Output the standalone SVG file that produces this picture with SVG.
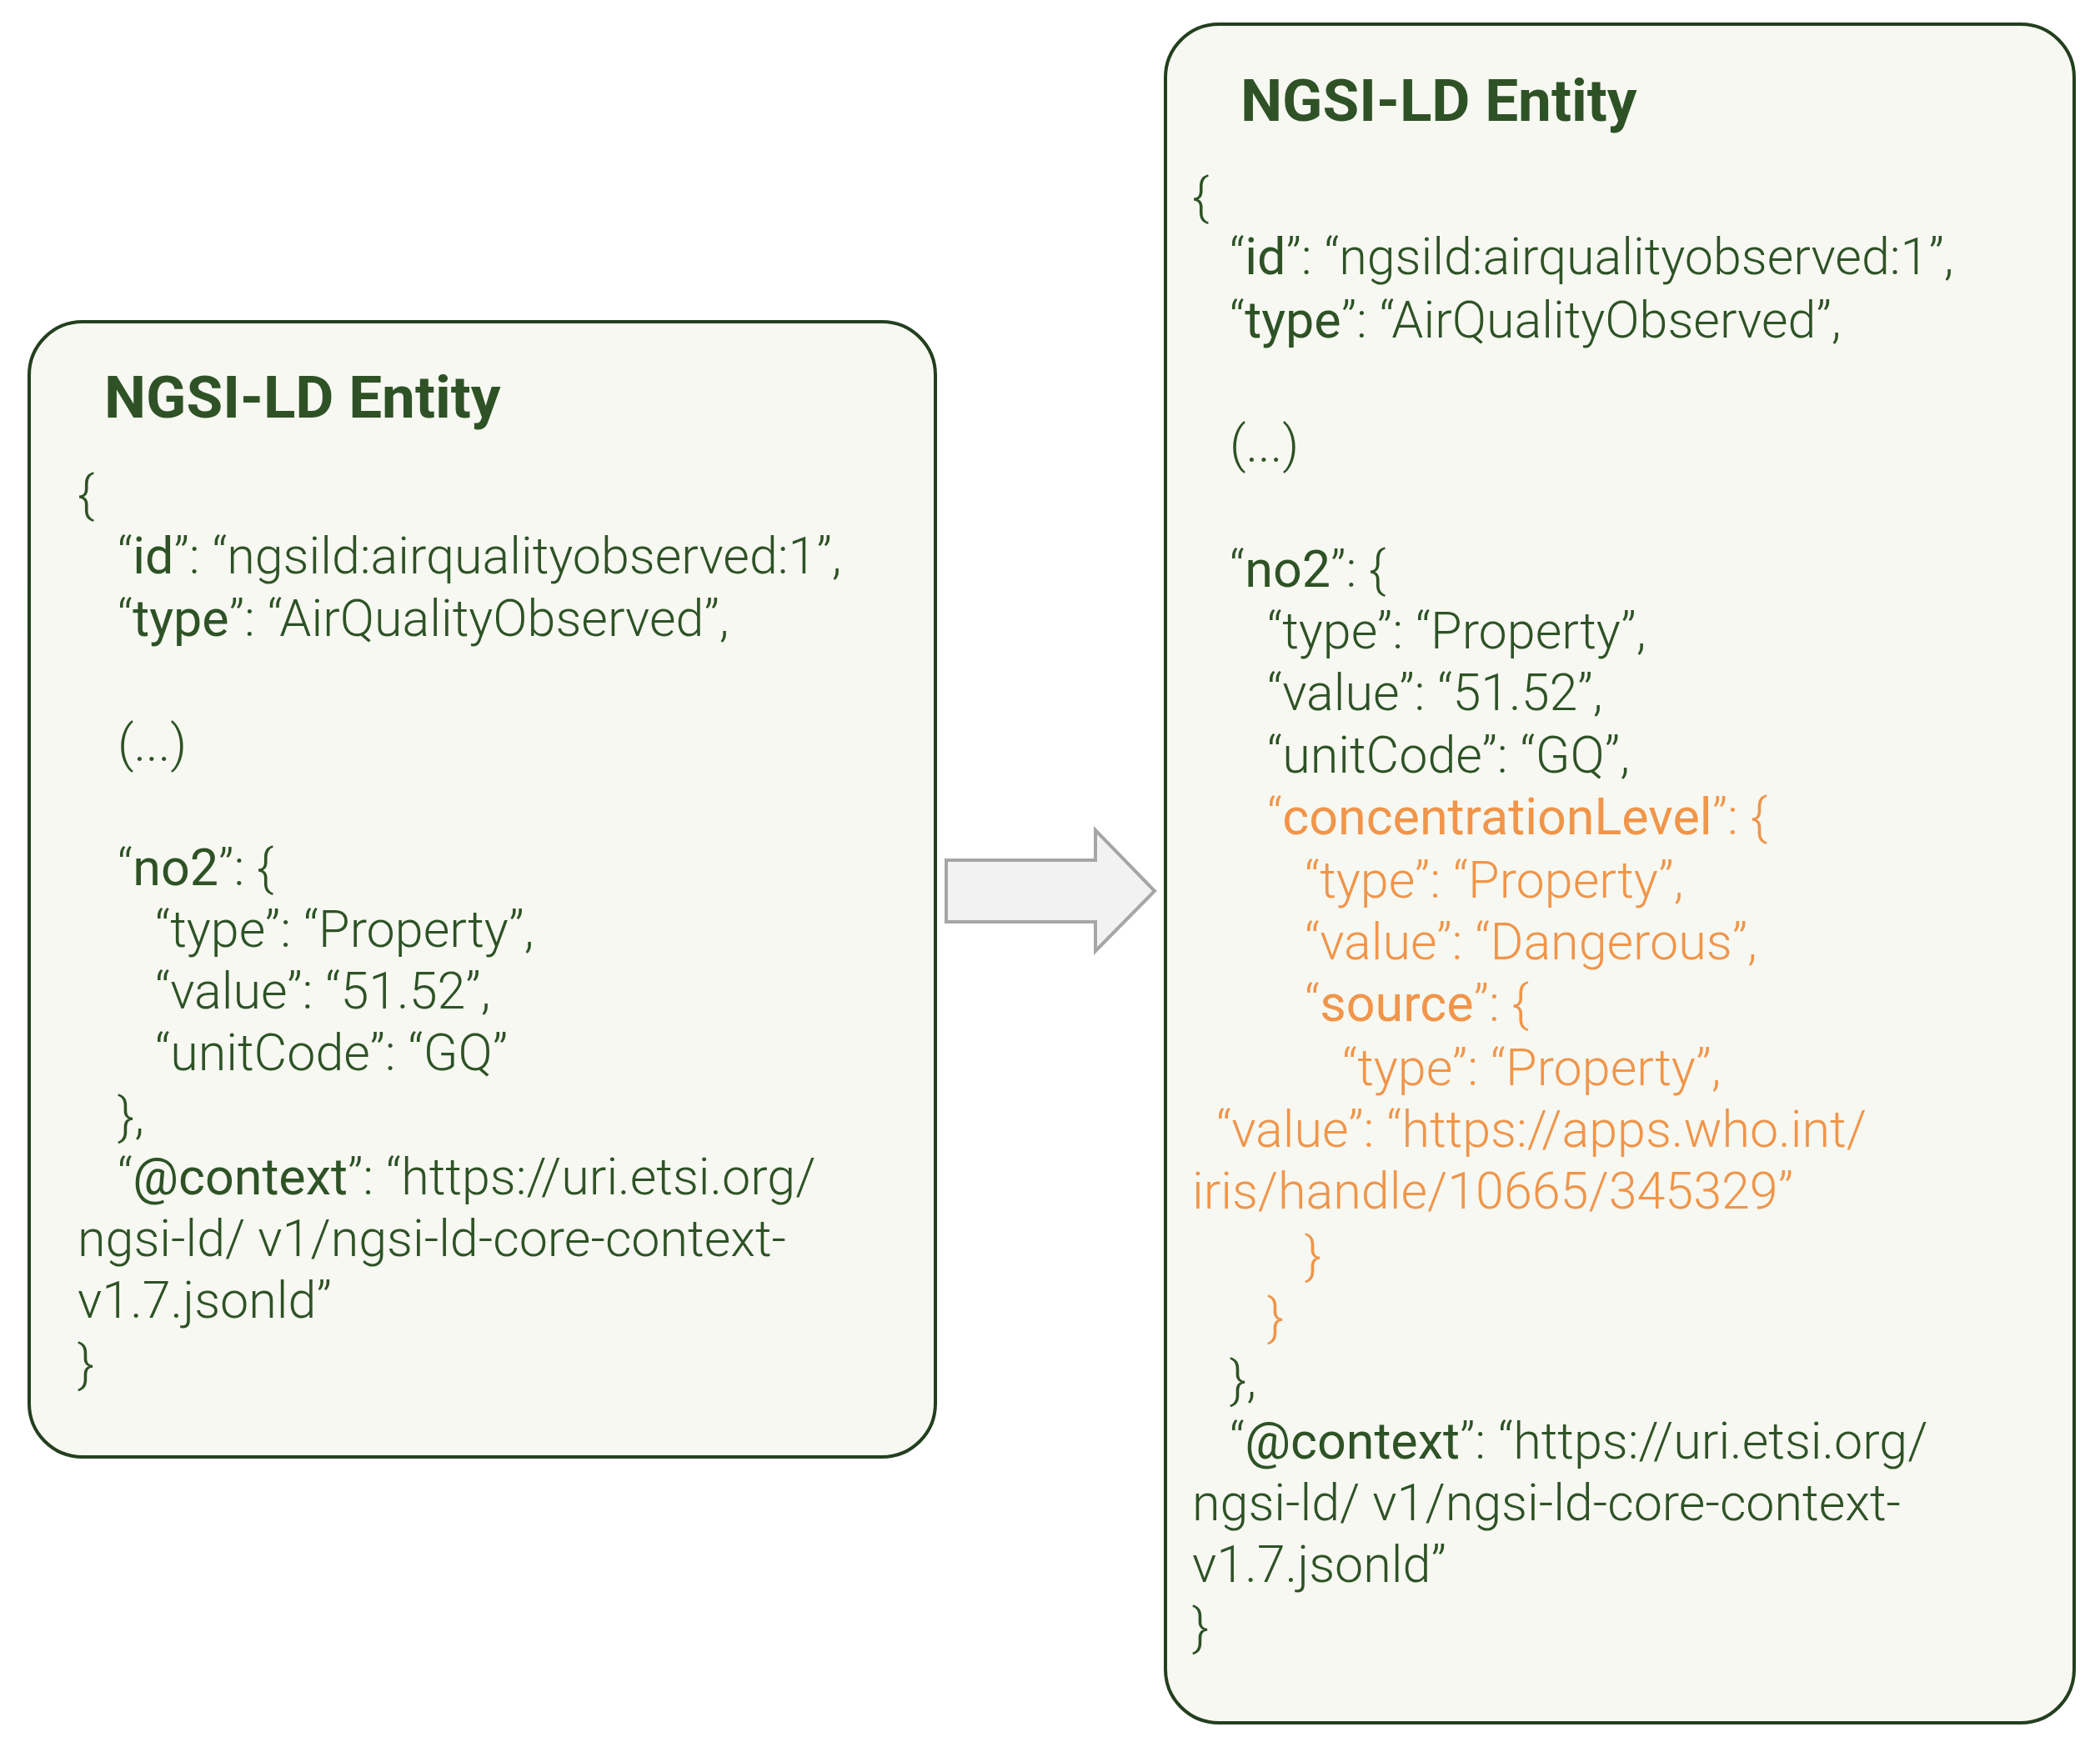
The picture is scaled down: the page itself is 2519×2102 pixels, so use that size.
<svg xmlns="http://www.w3.org/2000/svg" width="2519" height="2102" viewBox="0 0 2519 2102">
<style>
.box{fill:#f6f8f1;stroke:#233f1f;stroke-width:4}
.t{font-family:Roboto,"Liberation Sans",sans-serif;font-size:61px;font-weight:300;fill:#2e5226}
.h{font-family:Roboto,"Liberation Sans",sans-serif;font-size:71px;font-weight:700;fill:#2e5226}
.k{font-weight:400}
.o{fill:#f0954a}
</style>
<rect width="2519" height="2102" fill="#fff"/>
<g id="left">
<rect class="box" x="35" y="386" width="1087" height="1362" rx="64"/>
<text class="h" x="125" y="501">NGSI-LD Entity</text>
<text class="t" x="93" y="614">{</text>
<text class="t" x="141" y="688">“<tspan class="k">id</tspan>”: “ngsild:airqualityobserved:1”,</text>
<text class="t" x="141" y="763">“<tspan class="k">type</tspan>”: “AirQualityObserved”,</text>
<text class="t" x="141" y="913">(...)</text>
<text class="t" x="141" y="1062">“<tspan class="k">no2</tspan>”: {</text>
<text class="t" x="186" y="1136">“type”: “Property”,</text>
<text class="t" x="186" y="1210">“value”: “51.52”,</text>
<text class="t" x="186" y="1284">“unitCode”: “GQ”</text>
<text class="t" x="141" y="1360">},</text>
<text class="t" x="141" y="1433">“<tspan class="k">@context</tspan>”: “https://uri.etsi.org/</text>
<text class="t" x="93" y="1507">ngsi-ld/ v1/ngsi-ld-core-context-</text>
<text class="t" x="93" y="1581">v1.7.jsonld”</text>
<text class="t" x="93" y="1657">}</text>
</g>
<g id="connectors">
<polygon points="1135,1032 1314,1032 1314,996 1385,1069 1314,1141 1314,1106 1135,1106" fill="#f2f2f2" stroke="#a6a6a6" stroke-width="4"/>
</g>
<g id="right">
<rect class="box" x="1398" y="29" width="1090" height="2038" rx="64"/>
<text class="h" x="1488" y="145">NGSI-LD Entity</text>
<text class="t" x="1430" y="257">{</text>
<text class="t" x="1475" y="329">“<tspan class="k">id</tspan>”: “ngsild:airqualityobserved:1”,</text>
<text class="t" x="1475" y="405">“<tspan class="k">type</tspan>”: “AirQualityObserved”,</text>
<text class="t" x="1475" y="554">(...)</text>
<text class="t" x="1475" y="704">“<tspan class="k">no2</tspan>”: {</text>
<text class="t" x="1520" y="778">“type”: “Property”,</text>
<text class="t" x="1520" y="852">“value”: “51.52”,</text>
<text class="t" x="1520" y="927">“unitCode”: “GQ”,</text>
<text class="t o" x="1520" y="1001">“<tspan class="k">concentrationLevel</tspan>”: {</text>
<text class="t o" x="1565" y="1077">“type”: “Property”,</text>
<text class="t o" x="1565" y="1151">“value”: “Dangerous”,</text>
<text class="t o" x="1565" y="1225">“<tspan class="k">source</tspan>”: {</text>
<text class="t o" x="1610" y="1302">“type”: “Property”,</text>
<text class="t o" x="1459" y="1376">“value”: “https://apps.who.int/</text>
<text class="t o" x="1430" y="1450">iris/handle/10665/345329”</text>
<text class="t o" x="1565" y="1527">}</text>
<text class="t o" x="1520" y="1601">}</text>
<text class="t" x="1475" y="1676">},</text>
<text class="t" x="1475" y="1750">“<tspan class="k">@context</tspan>”: “https://uri.etsi.org/</text>
<text class="t" x="1430" y="1824">ngsi-ld/ v1/ngsi-ld-core-context-</text>
<text class="t" x="1430" y="1898">v1.7.jsonld”</text>
<text class="t" x="1430" y="1973">}</text>
</g>
</svg>
